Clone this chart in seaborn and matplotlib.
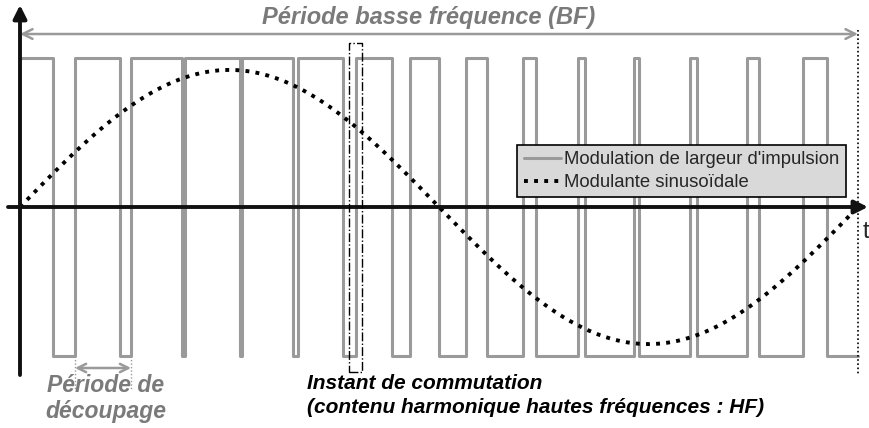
import numpy as np
import pandas as pd
import matplotlib
matplotlib.use("Agg")
import matplotlib.pyplot as plt
import seaborn as sns

# Time is expressed as a fraction of the low-frequency (BF) period.
# PWM switching instants (alternating high->low, low->high), starting high at t=0
switch_times = [0.0394, 0.0656, 0.1193, 0.1325, 0.1933, 0.1969, 0.2625, 0.2649,
                0.3258, 0.3317, 0.3854, 0.4010, 0.4439, 0.4654, 0.5000, 0.5322,
                0.5573, 0.6002, 0.6158, 0.6659, 0.6742, 0.7327, 0.7387, 0.7995,
                0.8079, 0.8675, 0.8819, 0.9344, 0.9630]
pwm_high = 1.0
pwm_low = -1.0
modulation_depth = 0.92

pwm_label = "Modulation de largeur d'impulsion"
sine_label = "Modulante sinusoïdale"
bf_label = "Période basse fréquence (BF)"
carrier_label = "Période de\ndécoupage"
switch_label = "Instant de commutation\n(contenu harmonique hautes fréquences : HF)"
axis_label = "t"

sns.set_style("white")
plt.rcParams["font.family"] = ["Liberation Sans", "DejaVu Sans"]

# Step signal built from the switching instants
pwm_t = [0.0] + switch_times + [1.0]
pwm_v = [pwm_high if i % 2 == 0 else pwm_low for i in range(len(switch_times) + 1)]
pwm_v = pwm_v + [pwm_v[-1]]
pwm_df = pd.DataFrame({"t": pwm_t, "v": pwm_v})

sine_t = np.linspace(0, 1, 600)
sine_df = pd.DataFrame({"t": sine_t, "v": modulation_depth * np.sin(2 * np.pi * sine_t)})

fig = plt.figure(figsize=(8.69, 4.28), dpi=100)
ax = fig.add_axes([0, 0, 1, 1])
ax.axis("off")
ax.set_xlim(-0.02387, 1.01313)
ax.set_ylim(-1.4832, 1.3893)

grey = "#9a9a9a"
text_grey = "#7a7a7a"

sns.lineplot(data=pwm_df, x="t", y="v", ax=ax, color=grey, lw=2.2,
             drawstyle="steps-post", sort=False, estimator=None,
             label=pwm_label, zorder=2)
sns.lineplot(data=sine_df, x="t", y="v", ax=ax, color="black", lw=2.8,
             linestyle=(0, (1, 1.6)), sort=False, estimator=None,
             label=sine_label, zorder=4)

# Coordinate axes with arrow heads
ax.annotate("", xy=(1.0119, 0), xytext=(-0.0143, 0),
            arrowprops=dict(arrowstyle="-|>", lw=2.8, color="#111111",
                            mutation_scale=20, shrinkA=0, shrinkB=0), zorder=5)
ax.annotate("", xy=(0, 1.3557), xytext=(0, -1.1275),
            arrowprops=dict(arrowstyle="-|>", lw=2.8, color="#111111",
                            mutation_scale=20, shrinkA=0, shrinkB=0), zorder=5)
ax.text(1.0055, -0.17, axis_label, fontsize=17, ha="left", va="center")

# Low-frequency period arrow
ax.annotate("", xy=(1.0, 1.161), xytext=(0.0, 1.161),
            arrowprops=dict(arrowstyle="<->,head_length=0.7,head_width=0.35",
                            lw=1.8, color=grey, shrinkA=0, shrinkB=0))
ax.text(0.488, 1.27, bf_label, fontsize=17, fontweight="bold", style="italic",
        color=text_grey, ha="center", va="center")
ax.plot([1.0, 1.0], [1.188, -1.128], color="black", lw=1.2, ls=(0, (1, 1.5)))

# Carrier (switching) period
c0, c1 = switch_times[1], switch_times[3]
ax.annotate("", xy=(c1, -1.0805), xytext=(c0, -1.0805),
            arrowprops=dict(arrowstyle="<->,head_length=0.6,head_width=0.3",
                            lw=1.8, color=grey, shrinkA=0, shrinkB=0))
for c in (c0, c1):
    ax.plot([c, c], [-1.0, -1.22], color=grey, lw=1.0, ls=(0, (1, 1.5)))
ax.text(0.1026, -1.285, carrier_label, fontsize=16.5, fontweight="bold",
        style="italic", color=text_grey, ha="center", va="center",
        linespacing=1.2)

# Highlighted switching instant
rx0, rx1, ry0, ry1 = 0.3926, 0.4081, -1.107, 1.1007
ax.plot([rx0, rx1, rx1, rx0, rx0], [ry0, ry0, ry1, ry1, ry0], color="black",
        lw=1.0, ls="-.", zorder=6)
ax.text(0.3425, -1.265, switch_label, fontsize=15, fontweight="bold",
        style="italic", color="black", ha="left", va="center", linespacing=1.35)

leg = ax.legend(loc="upper right", bbox_to_anchor=(0.9735, 0.6612),
                borderaxespad=0, frameon=True, fancybox=False, framealpha=1,
                facecolor="#d9d9d9", edgecolor="black", fontsize=13.3,
                handlelength=2.0, handletextpad=0.2, borderpad=0.35,
                labelspacing=0.3)
leg.get_frame().set_linewidth(1.2)
leg.set_zorder(7)

fig.savefig("out.png", dpi=100)
